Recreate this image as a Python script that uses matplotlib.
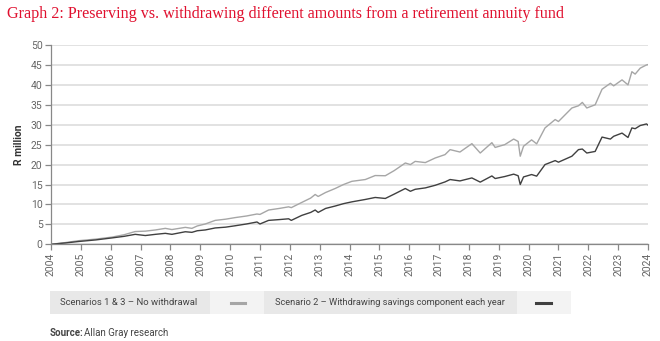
import matplotlib.pyplot as plt
from matplotlib.patches import Rectangle
from matplotlib.lines import Line2D

# values (R million)
dates = [2004.00, 2004.50, 2004.92, 2005.50, 2006.04, 2006.45, 2006.82, 2007.16, 2007.50, 2007.83,
         2008.05, 2008.50, 2008.72, 2008.90, 2009.17, 2009.50, 2009.85, 2010.17, 2010.55, 2010.90,
         2011.00, 2011.29, 2011.65, 2011.96, 2012.05, 2012.40, 2012.70, 2012.85, 2012.95, 2013.20,
         2013.52, 2013.80, 2014.08, 2014.53, 2014.86, 2015.20, 2015.50, 2015.87, 2016.04, 2016.20,
         2016.54, 2016.87, 2017.20, 2017.37, 2017.70, 2018.10, 2018.38, 2018.77, 2018.88, 2019.20,
         2019.50, 2019.65, 2019.72, 2019.83, 2020.10, 2020.27, 2020.55, 2020.89, 2021.00, 2021.45,
         2021.67, 2021.80, 2021.95, 2022.23, 2022.46, 2022.74, 2022.85, 2023.13, 2023.33, 2023.46,
         2023.57, 2023.74, 2023.95, 2024.00]
no_withdrawal = [0.0, 0.45, 0.9, 1.3, 1.8, 2.4, 3.2, 3.3, 3.6, 4.0,
                 3.7, 4.25, 4.0, 4.6, 5.1, 6.0, 6.3, 6.7, 7.1, 7.6,
                 7.5, 8.6, 9.0, 9.4, 9.2, 10.5, 11.6, 12.5, 12.0, 13.0,
                 14.0, 15.0, 15.8, 16.25, 17.25, 17.2, 18.5, 20.4, 20.0, 20.8,
                 20.5, 21.65, 22.5, 23.75, 23.15, 25.25, 22.9, 25.5, 24.3, 25.0,
                 26.4, 25.8, 22.1, 24.6, 26.2, 25.2, 29.2, 31.3, 30.8, 34.2,
                 34.75, 35.6, 34.2, 35.0, 38.9, 40.4, 39.75, 41.25, 40.0, 43.3,
                 42.7, 44.2, 45.0, 45.1]
withdrawing = [0.0, 0.35, 0.7, 1.1, 1.6, 2.0, 2.5, 2.2, 2.5, 2.75,
               2.5, 3.15, 3.0, 3.4, 3.6, 4.1, 4.3, 4.65, 5.1, 5.6,
               5.1, 6.0, 6.2, 6.4, 6.0, 7.25, 8.0, 8.6, 8.0, 9.0,
               9.6, 10.2, 10.65, 11.25, 11.75, 11.5, 12.6, 14.0, 13.3, 13.8,
               14.15, 14.8, 15.65, 16.25, 15.9, 16.65, 15.6, 17.15, 16.5, 17.0,
               17.6, 17.2, 15.0, 16.9, 17.5, 17.1, 20.0, 21.0, 20.6, 22.1,
               23.75, 23.9, 22.9, 23.3, 26.9, 26.4, 27.1, 27.9, 26.8, 29.2,
               29.0, 29.8, 30.2, 29.9]
years = list(range(2004, 2025))
label_1 = "Scenarios 1 & 3 \u2013 No withdrawal"
label_2 = "Scenario 2 \u2013 Withdrawing savings component each year"

plt.rcParams['font.family'] = ['Roboto', 'DejaVu Sans']

fig = plt.figure(figsize=(6.6, 3.41), dpi=100)
ax = fig.add_axes([51/660, 1 - 244.3/341, 597/660, 199.3/341])

ax.plot(dates, no_withdrawal, color="#a6a6a6", lw=1.0)
ax.plot(dates, withdrawing, color="#404040", lw=1.0)

ax.set_xlim(2004, 2024)
ax.set_ylim(0, 50)
ax.set_yticks(range(0, 51, 5))
ax.set_xticks(years)
ax.set_xticklabels([str(y) for y in years], rotation=90)
ax.grid(axis="y", color="#dddddd", lw=1.2)
ax.set_axisbelow(True)
for s in ["top", "right"]:
    ax.spines[s].set_visible(False)
for s in ["left", "bottom"]:
    ax.spines[s].set_color("#888888")
    ax.spines[s].set_linewidth(0.9)
ax.tick_params(colors="#888888", labelcolor="#666666", labelsize=7.5, length=4, width=0.9, pad=2)
ax.set_ylabel("R million", fontsize=7.5, fontweight="bold", color="#333333", labelpad=5)

fig.text(7/660, 1 - 14/341, "Graph 2: Preserving vs. withdrawing different amounts from a retirement annuity fund",
         family="Liberation Serif", fontsize=11.6, color="#e0102f", va="center", ha="left")

# legend boxes
y0, h = 1 - 314/341, 23/341
boxes = [(50, 210, "#e8e8e8"), (210, 264, "#f3f3f3"), (264, 517, "#e8e8e8"), (517, 571, "#f3f3f3")]
for a, b, c in boxes:
    fig.patches.append(Rectangle((a/660, y0), (b - a)/660, h, transform=fig.transFigure,
                                 facecolor=c, edgecolor="none"))
yc = 1 - 302.5/341
fig.text(129/660, yc, label_1, fontsize=6.8, color="#444444", ha="center", va="center")
fig.text(390/660, yc, label_2, fontsize=6.7, color="#444444", ha="center", va="center")
fig.lines.append(Line2D([231/660, 245/660], [yc, yc], transform=fig.transFigure, color="#a6a6a6", lw=2.2))
fig.lines.append(Line2D([536/660, 551/660], [yc, yc], transform=fig.transFigure, color="#404040", lw=2.2))

fig.text(50/660, 1 - 333/341, "Source:", fontsize=7, fontweight="bold", color="#444444", va="center")
fig.text(84/660, 1 - 333/341, "Allan Gray research", fontsize=7, color="#444444", va="center")

fig.savefig("out.png", dpi=100)
